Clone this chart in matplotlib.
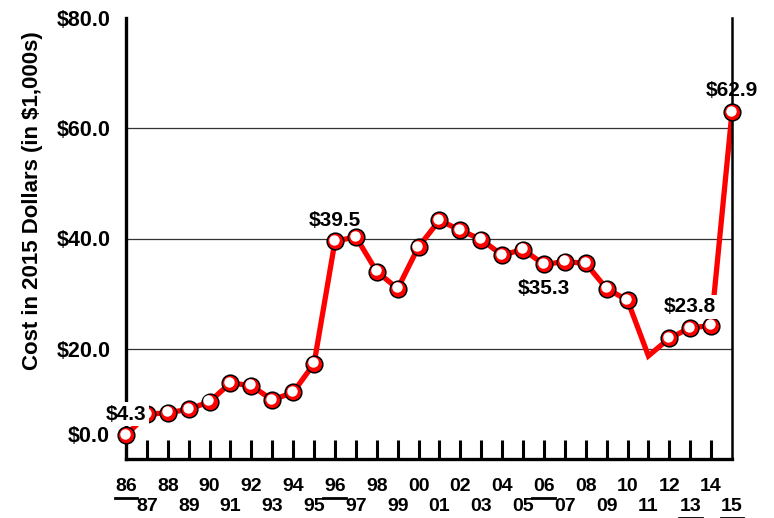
import numpy as np
import matplotlib
matplotlib.use("Agg")
from matplotlib import pyplot as plt
from matplotlib import transforms as mtrans

plt.rcParams['font.family'] = ['Liberation Sans', 'DejaVu Sans']
plt.rcParams['font.weight'] = 'bold'

# data
years = list(range(1986, 2016))
cost = [4.3, 8.1, 8.4, 9.0, 10.4, 13.8, 13.3, 10.7, 12.1, 17.3,
        39.5, 40.3, 34.0, 30.9, 38.5, 43.3, 41.5, 39.8, 37.0, 38.0,
        35.3, 35.8, 35.5, 30.9, 28.8, 18.7, 21.9, 23.8, 24.2, 62.9]
year_labels = ['%02d' % (y % 100) for y in years]
underlined = [1986, 1996, 2006, 2013, 2015]
callouts = {1986: '$4.3', 1996: '$39.5', 2006: '$35.3', 2013: '$23.8', 2015: '$62.9'}
y_ticks = [20, 40, 60, 80]
y_tick_labels = ['$20.0', '$40.0', '$60.0', '$80.0']

fig = plt.figure(figsize=(7.74, 5.18), dpi=100)
ax = fig.add_axes([126/774, 1-459/518, 606/774, 441/518])

ax.set_xlim(1986, 2015)
ax.set_ylim(0, 80)

# grid lines
for v in [20, 40, 60]:
    ax.axhline(v, color='#333333', lw=0.9, zorder=1)

# line
ax.plot(years, cost, color='#ff0000', lw=3.8, zorder=2, solid_joinstyle='miter')

# markers (no marker on 2011)
keep = [i for i, y in enumerate(years) if y != 2011]
mx = [years[i] for i in keep]
my = [cost[i] for i in keep]
ax.plot(mx, my, 'o', ls='none', ms=12, mfc='#ff0000', mec='black', mew=1.1, zorder=3, clip_on=False)
shift = ax.transData + mtrans.ScaledTranslation(-0.8/72, 0.9/72, fig.dpi_scale_trans)
ax.plot(mx, my, 'o', ls='none', ms=7.5, mfc='white', mec='none', zorder=4, transform=shift, clip_on=False)

# value call-outs
offsets = {1986: 15, 1996: 15, 2006: -17, 2013: 15, 2015: 16}
for y, txt in callouts.items():
    v = cost[years.index(y)]
    boxed = y in (1986, 2013)
    ax.annotate(txt, (y, v), xytext=(0, offsets[y]), textcoords='offset points',
                ha='center', va='center', fontsize=15, fontweight='bold', zorder=5,
                annotation_clip=False,
                bbox=dict(boxstyle='square,pad=0.12', fc='white', ec='none') if boxed else None)

# axes styling
ax.spines['top'].set_visible(False)
ax.spines['left'].set_linewidth(2.4)
ax.spines['bottom'].set_linewidth(2.4)
ax.spines['right'].set_linewidth(1.8)
ax.set_yticks(y_ticks)
ax.set_yticklabels(y_tick_labels, fontsize=15.5, fontweight='bold')
ax.tick_params(axis='y', length=0, pad=11)
ax.text(-0.027, 4.0, '$0.0', transform=mtrans.blended_transform_factory(ax.transAxes, ax.transData),
        ha='right', va='center', fontsize=15.5, fontweight='bold')

ax.set_xticks(years[1:-1])
ax.set_xticklabels([])
ax.tick_params(axis='x', direction='in', length=14, width=2.2)

# two-row year labels
bt = mtrans.blended_transform_factory(ax.transData, ax.transAxes)
for y, lab in zip(years, year_labels):
    row = (y - 1986) % 2
    ty = -0.062 if row == 0 else -0.107
    ax.text(y, ty, lab, transform=bt, ha='center', va='center', fontsize=14, fontweight='bold', clip_on=False)
    if y in underlined:
        uy = ty - 0.026
        ax.plot([y - 0.55, y + 0.55], [uy, uy], color='black', lw=2, transform=bt, clip_on=False)

ax.set_ylabel('Cost in 2015 Dollars (in $1,000s)', fontsize=16, fontweight='bold')
ax.yaxis.set_label_coords(-0.137, 0.587)

fig.savefig('out.png', dpi=100)
